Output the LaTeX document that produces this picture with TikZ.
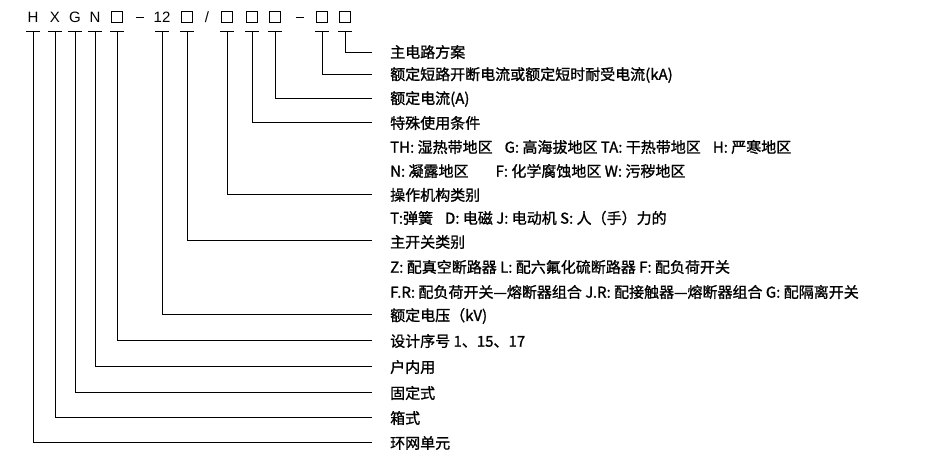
\documentclass[tikz,border=0pt]{standalone}
\usepackage{fontspec}
\setmainfont{Liberation Sans}
\newfontfamily\cjk[FakeBold=1.2]{Noto Sans CJK SC}
\begin{document}
\begin{tikzpicture}[x=1pt,y=-1pt,
  lbl/.style={anchor=west,inner sep=0pt,font=\cjk\fontsize{15}{16}\selectfont},
  ch/.style={inner sep=0pt,font=\fontsize{15}{16}\selectfont},
  bx/.style={draw,line width=0.9pt,minimum size=11pt,inner sep=0pt},
  ln/.style={line width=0.7pt}]
\useasboundingbox (0,0) rectangle (945,466);
% code line
\node[ch] (cH) at (33,17) {H};
\node[ch] (cX) at (55,17) {X};
\node[ch] (cG) at (75,17) {G};
\node[ch] (cN) at (95,17) {N};
\node[bx] (c1) at (117,17) {};
\node[minimum width=8pt,inner sep=0pt] (d1) at (140,17) {};
\draw[line width=1pt] (d1.west) -- (d1.east);
\node[ch] (c12) at (162,17) {12};
\node[bx] (c2) at (187,17) {};
\node[ch] (sl) at (207,17) {/};
\node[bx] (c3) at (227,17) {};
\node[bx] (c4) at (252,17) {};
\node[bx] (c5) at (275,17) {};
\node[minimum width=8pt,inner sep=0pt] (d2) at (300,17) {};
\draw[line width=1pt] (d2.west) -- (d2.east);
\node[bx] (c6) at (322,17) {};
\node[bx] (c7) at (345,17) {};
% labels
\node[lbl] (l1) at (390,52) {主电路方案};
\node[lbl] (l2) at (390,75) {额定短路开断电流或额定短时耐受电流(kA)};
\node[lbl] (l3) at (390,99) {额定电流(A)};
\node[lbl] (l4) at (390,123) {特殊使用条件};
\node[lbl] (t4a) at (390,147) {TH: 湿热带地区\hspace{0.8em}G: 高海拔地区 TA: 干热带地区\hspace{0.8em}H: 严寒地区};
\node[lbl] (t4b) at (390,171) {N: 凝露地区\hspace{1.8em}F: 化学腐蚀地区 W: 污秽地区};
\node[lbl] (l5) at (390,195) {操作机构类别};
\node[lbl] (t5) at (390,218) {T:弹簧\hspace{0.8em}D: 电磁 J: 电动机 S: 人（手）力的};
\node[lbl] (l6) at (390,242) {主开关类别};
\node[lbl] (t6a) at (390,267) {Z: 配真空断路器 L: 配六氟化硫断路器 F: 配负荷开关};
\node[lbl] (t6b) at (390,292) {F.R: 配负荷开关—熔断器组合 J.R: 配接触器—熔断器组合 G: 配隔离开关};
\node[lbl] (l7) at (390,316) {额定电压（kV)};
\node[lbl] (l8) at (390,341) {设计序号 1、15、17};
\node[lbl] (l9) at (390,367) {户内用};
\node[lbl] (l10) at (390,393) {固定式};
\node[lbl] (l11) at (390,418) {箱式};
\node[lbl] (l12) at (390,443) {环网单元};
% connectors
\foreach \c/\xx/\yy in {cH/33/442,cX/55/417,cG/75/392,cN/95/366,c1/117/340,c12/162/314,c2/187/240,c3/227/194,c4/252/122,c5/275/98,c6/322/74,c7/345/52}{
  \draw[ln] (\xx-7,31) -- (\xx+7,31);
  \draw[ln] (\xx,31) -- (\xx,\yy) -- (372,\yy);
}
\end{tikzpicture}
\end{document}
